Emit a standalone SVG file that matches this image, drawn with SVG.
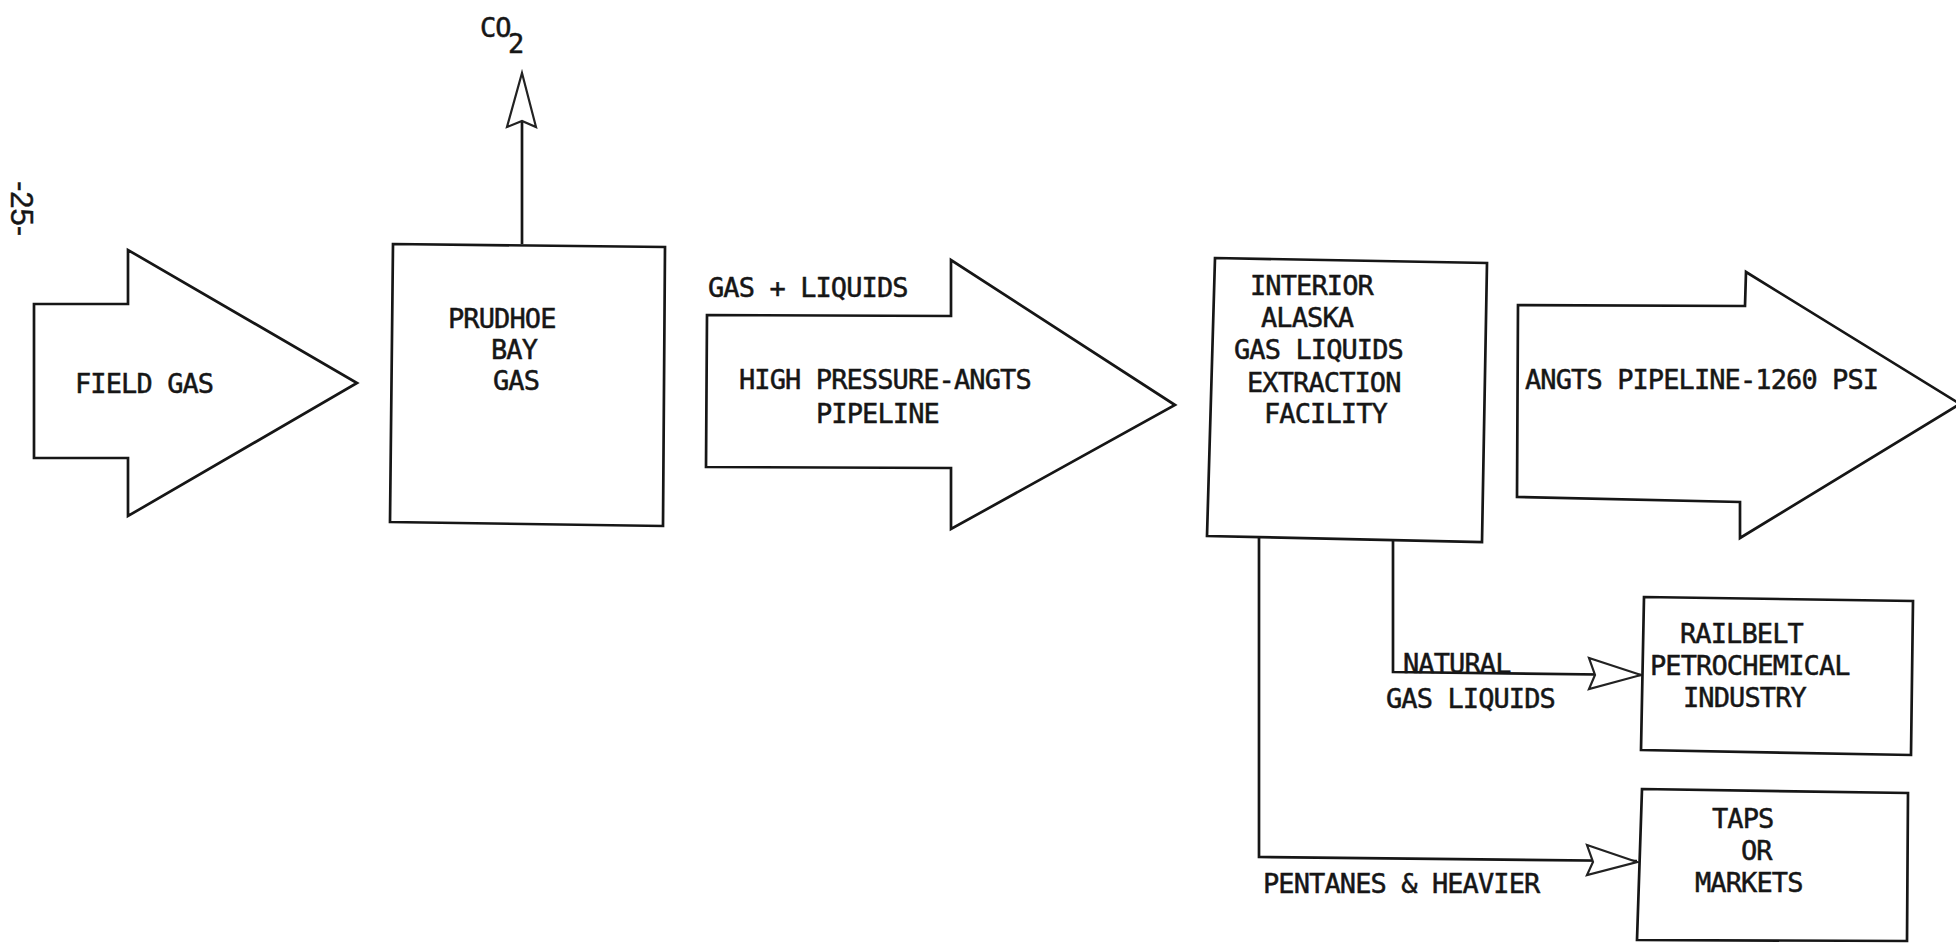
<svg xmlns="http://www.w3.org/2000/svg" width="1956" height="943" viewBox="0 0 1956 943">
<style>
.shape{fill:#fff;stroke:#161616;stroke-width:2.7;stroke-linejoin:miter}
.ln{fill:none;stroke:#161616;stroke-width:2.7}
.head{fill:#fff;stroke:#222;stroke-width:2.2;stroke-linejoin:miter}
.t{font-family:"DejaVu Sans Mono","Liberation Mono",monospace;font-size:27px;letter-spacing:-0.9px;fill:#161616;stroke:#161616;stroke-width:0.5}
.pg{font-family:"Liberation Sans",Arial,sans-serif;font-size:31px;fill:#161616;stroke:#161616;stroke-width:0.4}
</style>
<rect width="1956" height="943" fill="#fff"/>
<text class="pg" transform="translate(11,181) rotate(90)">-25-</text>

<g id="connectors">
<line class="ln" x1="522" y1="244" x2="522" y2="79"/>
<path class="head" d="M522,73 L536,127 L522,121 L507,127 Z"/>
<path class="ln" d="M1393,541 L1393,672 L1641,675"/>
<path class="head" d="M1641,675 L1589,658 L1595,675 L1589,689 Z"/>
<path class="ln" d="M1259,537 L1259,857 L1637,861"/>
<path class="head" d="M1637,862 L1587,845 L1593,862 L1587,875 Z"/>
</g>

<g id="field-gas">
<polygon class="shape" points="34,304 128,304 128,250 357,383 128,516 128,458 34,458"/>
<text class="t" x="75" y="393">FIELD GAS</text>
</g>

<g id="prudhoe-bay">
<polygon class="shape" points="393,244 665,247 663,526 390,522"/>
<text class="t" x="448" y="328">PRUDHOE</text>
<text class="t" x="491" y="359">BAY</text>
<text class="t" x="493" y="390">GAS</text>
</g>

<g id="co2">
<text class="t" x="480" y="37" letter-spacing="-3">CO</text>
<text class="t" x="508" y="53">2</text>
</g>

<g id="hp-pipeline">
<polygon class="shape" points="707,315 951,316 951,260 1175,405 951,529 951,468 706,467"/>
<text class="t" x="708" y="297">GAS + LIQUIDS</text>
<text class="t" x="739" y="389">HIGH PRESSURE-ANGTS</text>
<text class="t" x="816" y="423">PIPELINE</text>
</g>

<g id="interior-facility">
<polygon class="shape" points="1215,258 1487,263 1482,542 1207,536"/>
<text class="t" x="1250" y="295">INTERIOR</text>
<text class="t" x="1261" y="327">ALASKA</text>
<text class="t" x="1234" y="359">GAS LIQUIDS</text>
<text class="t" x="1247" y="392">EXTRACTION</text>
<text class="t" x="1264" y="423">FACILITY</text>
</g>

<g id="angts-pipeline">
<polygon class="shape" points="1518,305 1745,306 1746,272 1960,404 1740,538 1740,502 1517,497"/>
<text class="t" x="1525" y="389">ANGTS PIPELINE-1260 PSI</text>
</g>

<g id="ngl-label">
<text class="t" x="1403" y="673">NATURAL</text>
<text class="t" x="1386" y="708">GAS LIQUIDS</text>
</g>

<g id="pentanes-label">
<text class="t" x="1263" y="893">PENTANES &amp; HEAVIER</text>
</g>

<g id="railbelt">
<polygon class="shape" points="1644,597 1913,601 1911,755 1641,750"/>
<text class="t" x="1680" y="643">RAILBELT</text>
<text class="t" x="1650" y="675">PETROCHEMICAL</text>
<text class="t" x="1683" y="707">INDUSTRY</text>
</g>

<g id="taps-markets">
<polygon class="shape" points="1642,789 1908,793 1907,941 1637,940"/>
<text class="t" x="1712" y="828">TAPS</text>
<text class="t" x="1741" y="860">OR</text>
<text class="t" x="1695" y="892">MARKETS</text>
</g>
</svg>
